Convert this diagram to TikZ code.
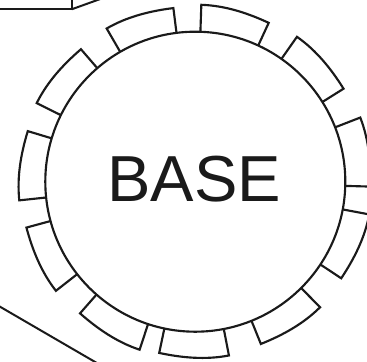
\documentclass[tikz,border=0pt]{standalone}
\usepackage{fontspec}
\setmainfont{Liberation Sans}
\usetikzlibrary{positioning}
\tikzset{
    every picture/.style={x=0.75pt,y=0.75pt},
    basecircle/.style={circle,draw=inkline,fill=white,line width=1.6pt,inner sep=0pt,minimum size=225pt},
    baselabel/.style={anchor=base,text=inkline,inner sep=0pt,font=\fontsize{48.8}{50}\selectfont},
    segment/.style={draw=inkline,line width=1.6pt,line join=miter},
    outline/.style={draw=inkline,line width=1.5pt}
}
\definecolor{inkline}{HTML}{1A1A1A}
\begin{document}
\begin{tikzpicture}
    \useasboundingbox (0,0) rectangle (367,361);
    \clip (0,0) rectangle (367,361);

    % Base disc and its label
    \node[basecircle] (base) at (195.3,179.3) {};
    \node[baselabel] (baselab) at (194,159.3) {BASE};

    % Segments round the disc, by their clockwise end
    \begin{scope}[shift={(195.3,179.3)}]
        \foreach \a in {97.2,65.2,32.1,-1.6,-33.5,-68,-101.9,-131.2,-164.8,163.2,130.8} {
            \draw[segment] (\a:150) -- (\a:175)
                .. controls ({\a+7.6}:176.6) and ({\a+15.2}:178.6) .. ({\a+22.85}:177)
                -- ({\a+22.85}:150);
        }
    \end{scope}

    % Outlines cut off by the edge, top left
    \coordinate (topa) at (-5,351.7);
    \coordinate (topb) at (71.7,351.7);
    \coordinate (topc) at (71.7,366);
    \coordinate (topd) at (110,365.5);
    \draw[outline] (topa) -- (topb) -- (topc);
    \draw[outline] (topb) -- (topd);

    % Outline cut off by the edge, bottom left
    \coordinate (lowa) at (-5,57.2);
    \coordinate (lowb) at (100.3,-4);
    \draw[outline] (lowa) -- (lowb);
\end{tikzpicture}
\end{document}
